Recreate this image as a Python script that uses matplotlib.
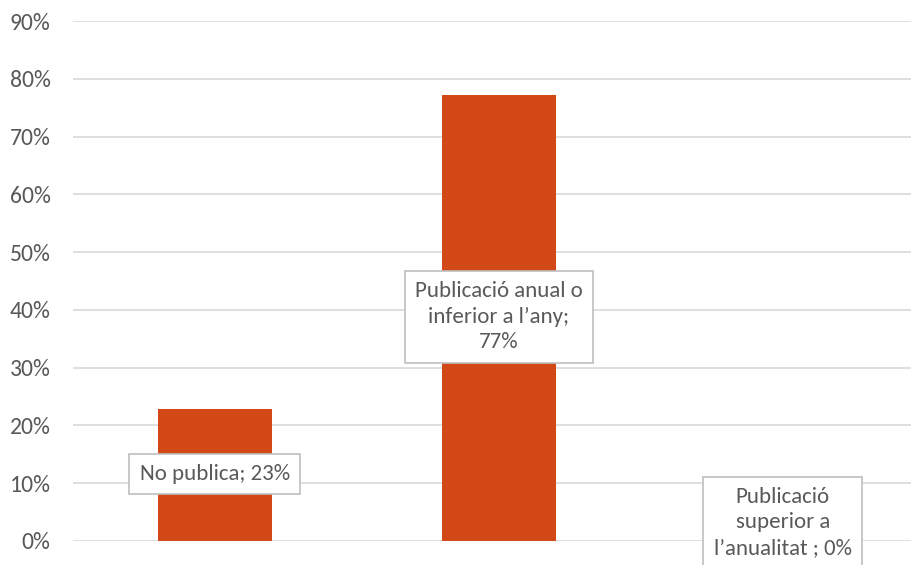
import numpy as np
import matplotlib.pyplot as plt

# categories and values (share of entities)
categories = ['No publica', 'Publicació anual o\ninferior a l’any', 'Publicació\nsuperior a\nl’anualitat ']
values = [22.8, 77.2, 0.0]
label_text = ['No publica; 23%', 'Publicació anual o\ninferior a l’any;\n77%', 'Publicació\nsuperior a\nl’anualitat ; 0%']
label_y = [11.6, 38.8, 3.2]

plt.rcParams['font.family'] = ['Carlito', 'Lato', 'DejaVu Sans']

fig = plt.figure(figsize=(9.11, 5.65), dpi=100)
ax = fig.add_axes([0.080, 0.0425, 0.935, 0.9203])

x = np.arange(len(categories))
ax.bar(x, values, width=0.4, color='#D34817', zorder=2)

# data labels in boxes
for i in range(len(values)):
    ax.text(x[i], label_y[i], label_text[i], ha='center', va='center',
            fontsize=16.5, color='#595959', linespacing=1.35, zorder=3,
            bbox=dict(boxstyle='square,pad=0.45', facecolor='white',
                      edgecolor='#BFBFBF', linewidth=1.2))

ax.set_xlim(-0.5, 2.5)
ax.set_ylim(0, 90)
ax.set_yticks(np.arange(0, 91, 10))
ax.set_yticklabels([f'{v}%' for v in range(0, 91, 10)])
ax.set_xticks([])
ax.tick_params(axis='y', length=0, labelsize=17, labelcolor='#595959', pad=16)
ax.yaxis.grid(True, color='#D9D9D9', linewidth=1.2, zorder=0)
ax.set_axisbelow(True)
for s in ax.spines.values():
    s.set_visible(False)

plt.savefig('out.png', dpi=100)
